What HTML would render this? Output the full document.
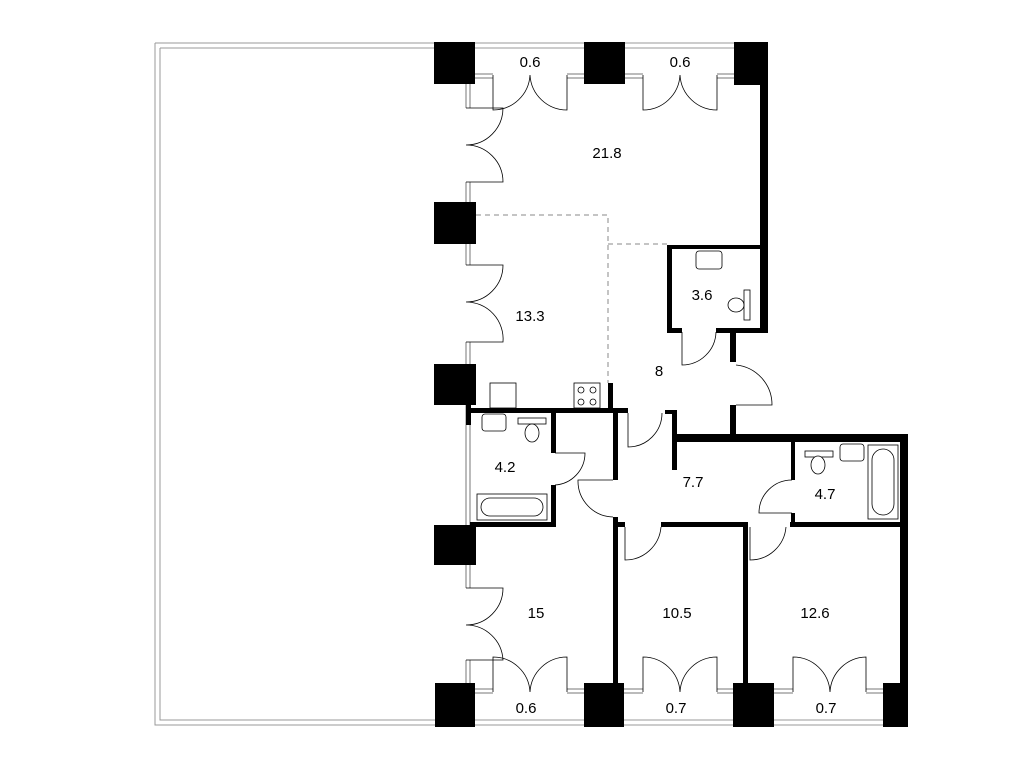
<!DOCTYPE html>
<html><head><meta charset="utf-8"><style>
html,body{margin:0;padding:0;background:#fff;}
svg{display:block}
text{font-family:"Liberation Sans",sans-serif;font-size:15px;fill:#000;text-anchor:middle}
</style></head><body>
<svg width="1024" height="768" viewBox="0 0 1024 768" xmlns="http://www.w3.org/2000/svg">
<g fill="none" stroke="#999" stroke-width="1">
<path d="M155,43 H740 M160,48 H740 M155,43 V725 H890 M160,48 V720 H890"/>
</g>
<g fill="none" stroke="#777" stroke-width="1">
<path d="M466,84 V108 M470,84 V108 M466,182 V202 M470,182 V202 M466,244 V265 M470,244 V265 M466,342 V364 M470,342 V364 M466,405 V525 M470,413 V525 M466,565 V588 M470,565 V588 M466,660 V683 M470,660 V683"/>
<path d="M475,74 H493 M475,78 H493 M567,74 H584 M567,78 H584 M625,74 H643 M625,78 H643 M717,74 H734 M717,78 H734"/>
<path d="M475,689 H493 M475,693 H493 M567,689 H584 M567,693 H584 M624,689 H643 M624,693 H643 M717,689 H733 M717,693 H733 M774,689 H793 M774,693 H793 M866,689 H883 M866,693 H883"/>
</g>
<g fill="none" stroke="#000" stroke-width="0.8">
<path d="M493,75 V110 A37,37 0 0 0 530,75 M567,75 V110 A37,37 0 0 1 530,75"/>
<path d="M643,75 V110 A37,37 0 0 0 680,75 M717,75 V110 A37,37 0 0 1 680,75"/>
<path d="M643,692 V657 A37,37 0 0 1 680,692 M717,692 V657 A37,37 0 0 0 680,692"/>
<path d="M793,692 V657 A37,37 0 0 1 830,692 M866,692 V657 A37,37 0 0 0 830,692"/>
<path d="M493,692 V657 A37,37 0 0 1 530,692 M567,692 V657 A37,37 0 0 0 530,692"/>
<path d="M466,108 H503 A37,37 0 0 1 466,145 M466,182 H503 A37,37 0 0 0 466,145"/>
<path d="M466,265 H503 A37,37 0 0 1 466,302 M466,342 H503 A37,37 0 0 0 466,302"/>
<path d="M466,588 H503 A37,37 0 0 1 466,625 M466,660 H503 A37,37 0 0 0 466,625"/>
<path d="M682,332 V365 A34,34 0 0 0 716,332"/>
<path d="M736,405 H772 A40,40 0 0 0 736,365"/>
<path d="M628,413 V447 A34,34 0 0 0 662,413"/>
<path d="M555,453 H585 A32,32 0 0 1 555,485"/>
<path d="M613,480 H578 A36,36 0 0 0 613,517"/>
<path d="M625,527 V560 A36,36 0 0 0 661,527"/>
<path d="M750,527 V560 A36,36 0 0 0 786,527"/>
<path d="M792,480 A33,33 0 0 0 759,513 H792"/>
</g>
<path d="M476,215 H608 V383 M608,244 H667" fill="none" stroke="#888" stroke-width="1" stroke-dasharray="5,4"/>
<g fill="#000">
<rect x="434" y="42" width="41" height="42"/>
<rect x="584" y="42" width="41" height="42"/>
<rect x="734" y="42" width="34" height="43"/>
<rect x="434" y="202" width="42" height="42"/>
<rect x="434" y="364" width="42" height="41"/>
<rect x="434" y="525" width="42" height="40"/>
<rect x="435" y="683" width="40" height="44"/>
<rect x="584" y="683" width="40" height="44"/>
<rect x="733" y="683" width="41" height="44"/>
<rect x="883" y="683" width="25" height="44"/>
<rect x="760" y="42" width="8" height="291"/>
<rect x="667" y="245" width="5" height="88"/>
<rect x="667" y="245" width="100" height="4"/>
<rect x="667" y="328" width="15" height="5"/>
<rect x="716" y="328" width="52" height="5"/>
<rect x="730" y="330" width="6" height="32"/>
<rect x="730" y="405" width="6" height="32"/>
<rect x="470" y="408" width="158" height="5"/>
<rect x="608" y="383" width="5" height="30"/>
<rect x="613" y="408" width="5" height="72"/>
<rect x="613" y="517" width="5" height="166"/>
<rect x="665" y="410" width="12" height="4"/>
<rect x="672" y="410" width="5" height="60"/>
<rect x="672" y="434" width="236" height="8"/>
<rect x="900" y="434" width="8" height="249"/>
<rect x="791" y="442" width="4" height="38"/>
<rect x="791" y="513" width="4" height="12"/>
<rect x="613" y="522" width="12" height="5"/>
<rect x="661" y="522" width="87" height="5"/>
<rect x="743" y="522" width="5" height="161"/>
<rect x="790" y="522" width="110" height="5"/>
<rect x="551" y="413" width="5" height="40"/>
<rect x="551" y="485" width="5" height="42"/>
<rect x="470" y="522" width="86" height="5"/>
<rect x="466" y="405" width="5" height="20"/>
</g>
<g fill="#fff" stroke="#000" stroke-width="0.8">
<rect x="490" y="383" width="26" height="25"/>
<rect x="574" y="383" width="26" height="25"/>
<circle cx="581" cy="390" r="3"/><circle cx="593" cy="390" r="3"/><circle cx="581" cy="402" r="3"/><circle cx="593" cy="402" r="3"/>
<rect x="477" y="494" width="70" height="26"/>
<rect x="481" y="498" width="62" height="18" rx="9"/>
<rect x="482" y="414" width="24" height="17" rx="3"/>
<rect x="518" y="418" width="28" height="6"/>
<ellipse cx="532" cy="433" rx="7" ry="9"/>
<rect x="696" y="251" width="26" height="18" rx="3"/>
<rect x="744" y="290" width="6" height="30"/>
<ellipse cx="736" cy="305" rx="8" ry="7"/>
<rect x="868" y="445" width="30" height="74"/>
<rect x="872" y="449" width="22" height="66" rx="11"/>
<rect x="840" y="444" width="24" height="17" rx="3"/>
<rect x="805" y="451" width="28" height="6"/>
<ellipse cx="818" cy="465" rx="7" ry="9"/>
</g>
<text x="530" y="67">0.6</text>
<text x="680" y="67">0.6</text>
<text x="607" y="158">21.8</text>
<text x="530" y="321">13.3</text>
<text x="702" y="300">3.6</text>
<text x="659" y="376">8</text>
<text x="505" y="472">4.2</text>
<text x="693" y="487">7.7</text>
<text x="825" y="499">4.7</text>
<text x="536" y="618">15</text>
<text x="677" y="618">10.5</text>
<text x="815" y="618">12.6</text>
<text x="526" y="713">0.6</text>
<text x="676" y="713">0.7</text>
<text x="826" y="713">0.7</text>
</svg>
</body></html>
